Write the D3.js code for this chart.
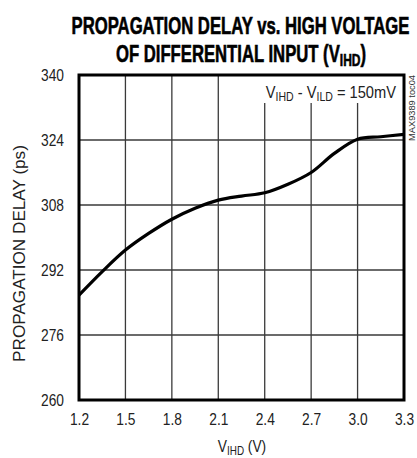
<!DOCTYPE html>
<html><head><meta charset="utf-8">
<script src="https://cdn.jsdelivr.net/npm/d3@7"></script>
<style>
body{margin:0;background:#fff;}
svg text{font-family:"Liberation Sans",Arial,sans-serif;}
</style></head>
<body><svg id="c" width="417" height="458"></svg>
<script>
const vihd = [1.2, 1.35, 1.5, 1.65, 1.8, 1.95, 2.1, 2.25, 2.4, 2.55, 2.7, 2.85, 3.0, 3.15, 3.3];
const delay = [285.8, 291.6, 296.9, 301.0, 304.5, 307.2, 309.2, 310.2, 311.0, 313.1, 316.0, 320.7, 324.2, 324.8, 325.4];
const xTicks = [1.2, 1.5, 1.8, 2.1, 2.4, 2.7, 3.0, 3.3];
const yTicks = [260, 276, 292, 308, 324, 340];

const svg = d3.select("#c");
const L = 79, R = 404, T = 75, B = 400;
const x = d3.scaleLinear().domain([1.2, 3.3]).range([L, R]);
const y = d3.scaleLinear().domain([260, 340]).range([B, T]);
const K = 0.81; // horizontal condensing factor

function placeText(px, py, opts) {
  const g = svg.append("g").attr("transform", `translate(${px},${py})${opts.rotate ? ` rotate(${opts.rotate})` : ""}`);
  const t = g.append("text").attr("text-anchor", opts.anchor || "middle")
    .attr("font-size", opts.size).attr("fill", opts.fill || "#222");
  if (opts.bold) t.attr("font-weight", "bold");
  if (opts.stroke) t.attr("stroke", opts.fill || "#000").attr("stroke-width", opts.stroke);
  const sh = opts.subShift || 0.2;
  opts.parts.forEach(p => {
    const s = t.append("tspan").text(p.t);
    if (p.sub) s.attr("font-size", opts.size * 0.72).attr("dy", opts.size * sh);
    if (p.back) s.attr("dy", -opts.size * sh);
  });
  let k = opts.k;
  if (opts.width) { const w = t.node().getBBox().width; k = opts.width / w; }
  t.attr("transform", `scale(${k},1)`);
  return k;
}

// grid
svg.append("g").selectAll("line").data(xTicks.slice(1, -1)).join("line")
  .attr("x1", d => x(d)).attr("x2", d => x(d)).attr("y1", T).attr("y2", B)
  .attr("stroke", "#3a3a3a").attr("stroke-width", 1.3);
svg.append("g").selectAll("line").data(yTicks.slice(1, -1)).join("line")
  .attr("x1", L).attr("x2", R).attr("y1", d => y(d)).attr("y2", d => y(d))
  .attr("stroke", "#3a3a3a").attr("stroke-width", 1.3);

// annotation background
svg.append("rect").attr("x", 262).attr("y", T).attr("width", R - 262).attr("height", 28).attr("fill", "#fff");

// curve
const line = d3.line().x((d, i) => x(vihd[i])).y(d => y(d)).curve(d3.curveCatmullRom.alpha(0.5));
svg.append("path").datum(delay).attr("d", line).attr("fill", "none")
  .attr("stroke", "#000").attr("stroke-width", 3.2).attr("stroke-linejoin", "round");

// frame
svg.append("rect").attr("x", L).attr("y", T).attr("width", R - L).attr("height", B - T)
  .attr("fill", "none").attr("stroke", "#000").attr("stroke-width", 3);

// axes
const xAxis = d3.axisBottom(x).tickValues(xTicks).tickFormat(d3.format(".1f")).tickSize(0).tickPadding(13);
const gx = svg.append("g").attr("transform", `translate(0,${B})`).call(xAxis);
gx.select(".domain").remove();
gx.selectAll("text").attr("font-size", 17).attr("fill", "#222").attr("dy", "0.71em")
  .attr("font-family", '"Liberation Sans",Arial,sans-serif')
  .attr("transform", `scale(${K},1)`);

const yAxis = d3.axisLeft(y).tickValues(yTicks).tickFormat(d3.format("d")).tickSize(0).tickPadding(15);
const gy = svg.append("g").attr("transform", `translate(${L},0)`).call(yAxis);
gy.select(".domain").remove();
gy.selectAll("text").attr("font-size", 17).attr("fill", "#222")
  .attr("font-family", '"Liberation Sans",Arial,sans-serif')
  .attr("x", -15 / K).attr("transform", `scale(${K},1)`);

// title
const kt = placeText(240.5, 34, { size: 24, bold: true, fill: "#000", stroke: 0.6, width: 338,
  parts: [{ t: "PROPAGATION DELAY vs. HIGH VOLTAGE" }] });
placeText(241, 62, { size: 24, bold: true, fill: "#000", stroke: 0.6, k: kt, subShift: 0.15,
  parts: [{ t: "OF DIFFERENTIAL INPUT (V" }, { t: "IHD", sub: true }, { t: ")", back: true }] });

// axis titles
placeText(242, 452, { size: 17, k: K, subShift: 0.15,
  parts: [{ t: "V" }, { t: "IHD", sub: true }, { t: " (V)", back: true }] });
placeText(24.5, 253.5, { size: 16.5, rotate: -90, width: 217,
  parts: [{ t: "PROPAGATION DELAY (ps)" }] });

// annotation
placeText(396, 98, { size: 17, anchor: "end", width: 131, subShift: 0.18,
  parts: [{ t: "V" }, { t: "IHD", sub: true }, { t: " - V", back: true }, { t: "ILD", sub: true }, { t: " = 150mV", back: true }] });

// side label
placeText(414.5, 75, { size: 9, anchor: "end", rotate: -90, width: 66, fill: "#333",
  parts: [{ t: "MAX9389 toc04" }] });
</script></body></html>
